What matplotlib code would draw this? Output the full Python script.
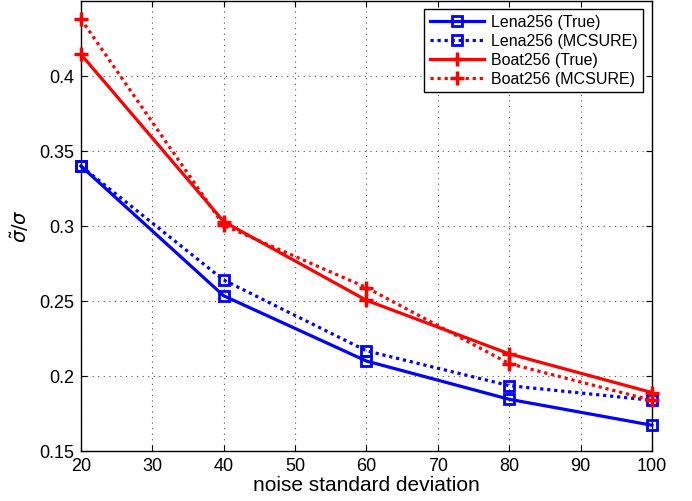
import matplotlib
matplotlib.use('Agg')
import matplotlib.pyplot as plt

plt.rcParams['font.family'] = ['Liberation Sans', 'DejaVu Sans']
plt.rcParams['mathtext.fontset'] = 'dejavusans'

# noise levels
noise = [20, 40, 60, 80, 100]

# sigma_tilde / sigma
lena_true = [0.340, 0.2535, 0.2100, 0.1845, 0.1672]
lena_mcsure = [0.340, 0.2640, 0.2168, 0.1936, 0.1838]
boat_true = [0.4145, 0.3030, 0.2505, 0.2148, 0.1890]
boat_mcsure = [0.4380, 0.3005, 0.2590, 0.2083, 0.1838]

labels = ['Lena256 (True)', 'Lena256 (MCSURE)', 'Boat256 (True)', 'Boat256 (MCSURE)']

fig = plt.figure(figsize=(6.92, 5.01), dpi=100)
ax = fig.add_axes([0.117, 0.0998, 0.825, 0.898])

dots = (0, (1, 1.2))
ax.plot(noise, lena_true, color='#0000ff', lw=2.3, ls='-', marker='s', ms=7,
        mfc='none', mew=2, label=labels[0], clip_on=False, zorder=3)
ax.plot(noise, lena_mcsure, color='#0000ff', lw=2.3, ls=dots, marker='s', ms=7,
        mfc='none', mew=2, label=labels[1], clip_on=False, zorder=3)
ax.plot(noise, boat_true, color='#ff0000', lw=2.3, ls='-', marker='+', ms=10,
        mew=2.5, label=labels[2], clip_on=False, zorder=3)
ax.plot(noise, boat_mcsure, color='#ff0000', lw=2.3, ls=dots, marker='+', ms=10,
        mew=2.5, label=labels[3], clip_on=False, zorder=3)

ax.set_xlim(20, 100)
ax.set_ylim(0.15, 0.45)
ax.set_xticks(range(20, 101, 10))
ax.set_yticks([0.15, 0.2, 0.25, 0.3, 0.35, 0.4])
ax.set_yticklabels(['0.15', '0.2', '0.25', '0.3', '0.35', '0.4'])
ax.tick_params(direction='in', top=True, right=True, labelsize=13, length=4,
               width=0.8, pad=5)
ax.grid(True, ls=(0, (1, 4)), color='#555555', lw=0.8)
for s in ax.spines.values():
    s.set_linewidth(1.0)

ax.set_xlabel('noise standard deviation', fontsize=15, labelpad=1)
ax.set_ylabel(r'$\tilde{\sigma}/\sigma$', fontsize=14, labelpad=6)

leg = ax.legend(loc='upper right', fontsize=11.5, fancybox=False, framealpha=1,
                edgecolor='black', handlelength=3.4, handletextpad=0.4,
                bbox_to_anchor=(0.984, 0.982), borderaxespad=0,
                labelspacing=0.25, borderpad=0.35)
leg.get_frame().set_linewidth(1.0)
leg.set_zorder(5)

fig.savefig('out.png', dpi=100)
